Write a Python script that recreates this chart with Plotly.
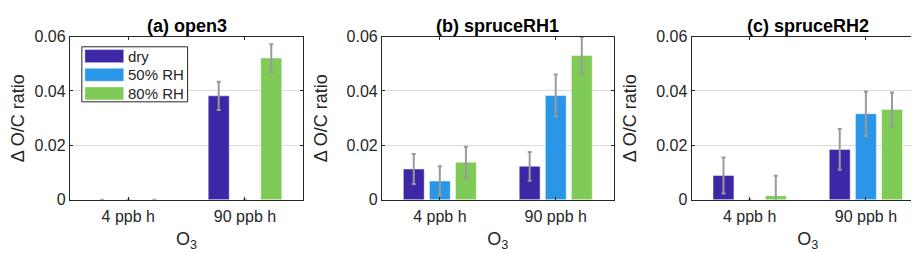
import plotly.graph_objects as go

W, H = 919, 253

categories = ["4 ppb h", "90 ppb h"]
series_names = ["dry", "50% RH", "80% RH"]
series_colors = ["#3E27A6", "#2A96E8", "#80CB58"]
panel_titles = ["(a) open3", "(b) spruceRH1", "(c) spruceRH2"]

# values[panel][series] = [4 ppb h, 90 ppb h]
open3_vals = [[0.0, 0.0382], [0.0, 0.0], [0.0, 0.0521]]
open3_errs = [[0.0, 0.0052], [0.0, 0.0], [0.0, 0.0051]]
spruce1_vals = [[0.0113, 0.0123], [0.0069, 0.0383], [0.0138, 0.0530]]
spruce1_errs = [[0.0055, 0.0053], [0.0054, 0.0077], [0.0057, 0.0068]]
spruce2_vals = [[0.0089, 0.0185], [0.0, 0.0316], [0.0015, 0.0332]]
spruce2_errs = [[0.0066, 0.0075], [0.0, 0.0082], [0.0073, 0.0062]]

y_tickvals = [0, 0.02, 0.04, 0.06]
y_ticktext = ["0", "0.02", "0.04", "0.06"]

panels_vals = [open3_vals, spruce1_vals, spruce2_vals]
panels_errs = [open3_errs, spruce1_errs, spruce2_errs]

# layout in pixels
x_doms_px = [(60, 294), (372.7, 605), (683, 916)]
y_top_px, y_bot_px = 22, 197

def px_x(x):
    return x / W

def px_y(y):
    return 1 - y / H

FONT = "Liberation Sans, Arial, sans-serif"
TXT = "#262626"

fig = go.Figure()
layout_axes = {}
annotations = []
shapes = []

for p in range(3):
    xa = "x" if p == 0 else f"x{p+1}"
    ya = "y" if p == 0 else f"y{p+1}"
    for s in range(3):
        fig.add_trace(go.Bar(
            x=[1, 2],
            y=panels_vals[p][s],
            name=series_names[s],
            marker=dict(color=series_colors[s], line=dict(color="rgba(255,255,255,0.45)", width=1)),
            error_y=dict(type="data", array=panels_errs[p][s], visible=True,
                         color="#9A9A9A", thickness=2, width=2),
            xaxis=xa, yaxis=ya, showlegend=False,
        ))
    xkey = "xaxis" if p == 0 else f"xaxis{p+1}"
    ykey = "yaxis" if p == 0 else f"yaxis{p+1}"
    x0, x1 = x_doms_px[p]
    layout_axes[xkey] = dict(
        domain=[px_x(x0), px_x(x1)], anchor=ya, range=[0.5, 2.5],
        tickvals=[1, 2], ticktext=categories, ticks="inside", ticklen=3,
        tickcolor=TXT, showline=True, linecolor=TXT, linewidth=1, mirror="ticks",
        showgrid=False, zeroline=False, ticklabelstandoff=2,
        tickfont=dict(family=FONT, size=16, color=TXT),
        title=dict(text="O<sub>3</sub>", font=dict(family=FONT, size=18, color=TXT), standoff=8),
    )
    layout_axes[ykey] = dict(
        domain=[px_y(y_bot_px), px_y(y_top_px)], anchor=xa, range=[0, 0.06],
        tickvals=y_tickvals, ticktext=y_ticktext, ticks="inside", ticklen=3,
        tickcolor=TXT, showline=True, linecolor=TXT, linewidth=1, mirror="ticks",
        showgrid=True, gridcolor="#DCDCDC", gridwidth=1, zeroline=False,
        tickfont=dict(family=FONT, size=16, color=TXT),
        title=dict(text="\u0394 O/C ratio", font=dict(family=FONT, size=18, color=TXT), standoff=14),
    )
    annotations.append(dict(
        text=f"<b>{panel_titles[p]}</b>", xref="paper", yref="paper",
        x=px_x((x0 + x1) / 2), y=px_y(11), xanchor="center", yanchor="middle",
        showarrow=False, font=dict(family=FONT, size=18, color="#000000"),
    ))

# custom legend in panel (a)
lg_left, lg_right, lg_top, lg_bot = 72, 178, 33, 92
shapes.append(dict(type="rect", xref="paper", yref="paper",
                   x0=px_x(lg_left), x1=px_x(lg_right), y0=px_y(lg_bot), y1=px_y(lg_top),
                   line=dict(color=TXT, width=1), fillcolor="white", layer="above"))
row_centers = [43, 63, 83]
for s in range(3):
    yc = row_centers[s]
    shapes.append(dict(type="rect", xref="paper", yref="paper",
                       x0=px_x(75), x1=px_x(114), y0=px_y(yc + 7), y1=px_y(yc - 7),
                       line=dict(color="rgba(255,255,255,0.45)", width=1),
                       fillcolor=series_colors[s], layer="above"))
    annotations.append(dict(
        text=series_names[s], xref="paper", yref="paper",
        x=px_x(116), y=px_y(yc), xanchor="left", yanchor="middle",
        showarrow=False, font=dict(family=FONT, size=15, color=TXT),
    ))

fig.update_layout(
    width=W, height=H,
    margin=dict(l=0, r=0, t=0, b=0),
    paper_bgcolor="white", plot_bgcolor="white",
    barmode="group", bargap=0.325, bargroupgap=0.2,
    annotations=annotations, shapes=shapes,
    showlegend=False,
    **layout_axes,
)

fig.write_html("out.html")
